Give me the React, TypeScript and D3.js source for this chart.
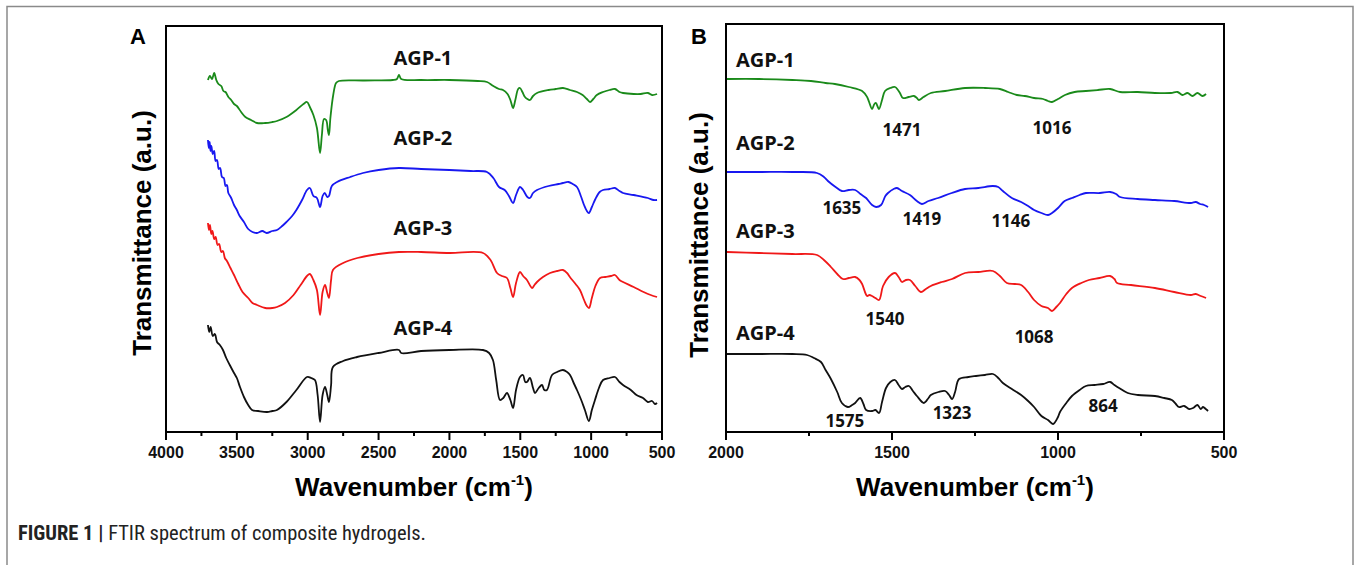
import React from "react";
import * as d3 from "d3";

// ---------- DATA ----------
// Panel A: full range spectra, [wavenumber (cm-1), transmittance (a.u.)]
const agp1A: [number, number][] = [
  [3704, 352], [3690, 356], [3675, 353], [3660, 359], [3645, 352], [3630, 348], [3610, 346], [3595, 341],
  [3580, 340], [3560, 335], [3540, 332], [3520, 328], [3500, 326], [3470, 320], [3440, 315], [3400, 312],
  [3358, 309], [3300, 309], [3250, 310], [3217, 311], [3150, 315], [3080, 322], [3030, 328], [3005, 330],
  [2985, 325], [2960, 317], [2935, 304], [2913, 279], [2900, 297], [2885, 313], [2870, 312], [2858, 302],
  [2850, 297], [2840, 314], [2820, 337], [2800, 349], [2780, 351], [2600, 351.5], [2400, 352], [2370, 353],
  [2356, 357], [2340, 353], [2200, 352], [2000, 352], [1800, 351], [1735, 350], [1690, 346], [1650, 343],
  [1622, 342], [1590, 338], [1570, 332], [1551, 324], [1535, 332], [1515, 343], [1502, 344], [1485, 340],
  [1467, 335], [1450, 333], [1432, 332], [1410, 336], [1382, 339], [1300, 342], [1250, 343], [1199, 344],
  [1150, 342], [1100, 340], [1060, 337], [1030, 333], [1008, 330], [985, 333], [960, 337], [916, 340],
  [870, 342], [832, 343], [800, 340], [775, 339], [700, 338], [650, 338], [600, 339], [570, 337], [535, 338],
];
const agp2A: [number, number][] = [
  [3704, 292], [3698, 284], [3692, 290], [3686, 281], [3680, 286], [3670, 278], [3660, 281], [3650, 271],
  [3640, 272], [3628, 263], [3618, 264], [3605, 255], [3592, 254], [3580, 246], [3570, 247], [3560, 239],
  [3540, 234], [3520, 227], [3500, 222], [3480, 216], [3450, 210], [3420, 203], [3390, 200], [3358, 199],
  [3320, 201], [3290, 199], [3250, 201], [3217, 202], [3180, 206], [3150, 210], [3110, 216], [3080, 222],
  [3040, 232], [3005, 242], [2985, 244], [2960, 236], [2935, 234], [2913, 225], [2895, 236], [2880, 239],
  [2862, 235], [2850, 236], [2830, 246], [2793, 250], [2700, 255], [2610, 259], [2500, 262], [2356, 264],
  [2200, 263], [2000, 262], [1850, 261], [1735, 260], [1690, 254], [1650, 245], [1610, 242], [1580, 236],
  [1551, 229], [1530, 237], [1502, 245], [1480, 242], [1450, 235], [1432, 234], [1410, 239], [1382, 242],
  [1300, 246], [1230, 248], [1199, 249], [1160, 250], [1130, 248], [1100, 245], [1070, 235], [1050, 227],
  [1030, 221], [1016, 219], [995, 225], [970, 233], [940, 240], [916, 242], [870, 243], [832, 244],
  [800, 241], [775, 239], [700, 237], [600, 234], [560, 232], [535, 232],
];
const agp3A: [number, number][] = [
  [3704, 209], [3697, 202], [3690, 207], [3680, 198], [3672, 201], [3660, 193], [3650, 195], [3636, 187],
  [3625, 188], [3610, 180], [3598, 181], [3585, 174], [3570, 171], [3545, 164], [3520, 157], [3490, 148],
  [3460, 140], [3420, 134], [3390, 129], [3358, 127], [3300, 124], [3250, 124], [3217, 125], [3160, 129],
  [3100, 137], [3050, 147], [3005, 156], [2985, 158], [2960, 152], [2935, 142], [2913, 117], [2895, 140],
  [2878, 147], [2862, 139], [2850, 134], [2835, 152], [2822, 162], [2750, 169], [2650, 174], [2500, 178],
  [2356, 180], [2200, 180], [2000, 179], [1763, 179], [1710, 172], [1664, 159], [1630, 156], [1594, 154],
  [1570, 144], [1551, 135], [1530, 149], [1502, 160], [1480, 156], [1453, 152], [1417, 144], [1400, 147],
  [1382, 150], [1340, 155], [1290, 159], [1240, 161], [1199, 162], [1170, 159], [1150, 155], [1110, 148],
  [1079, 142], [1050, 132], [1030, 126], [1015, 124], [995, 134], [970, 146], [937, 154], [900, 155],
  [860, 156], [832, 157], [800, 152], [775, 150], [700, 145], [630, 140], [580, 137], [535, 135],
];
const agp4A: [number, number][] = [
  [3704, 107], [3695, 100], [3685, 105], [3670, 96], [3655, 98], [3640, 90], [3620, 87], [3598, 82],
  [3575, 74], [3550, 67], [3520, 59], [3500, 54], [3478, 45], [3450, 35], [3420, 27], [3393, 22],
  [3350, 21], [3287, 20], [3250, 21], [3217, 22], [3150, 30], [3080, 42], [3005, 55], [2975, 54],
  [2949, 52], [2930, 37], [2913, 10], [2895, 37], [2878, 45], [2862, 37], [2850, 30], [2835, 47],
  [2822, 65], [2750, 71], [2652, 75], [2500, 79], [2356, 82], [2340, 79], [2200, 81], [2000, 82],
  [1763, 82], [1720, 79], [1693, 72], [1670, 52], [1643, 32], [1620, 34], [1594, 39], [1570, 32],
  [1551, 24], [1530, 42], [1502, 55], [1481, 57], [1465, 50], [1453, 50], [1432, 54], [1410, 44],
  [1396, 39], [1370, 44], [1347, 47], [1330, 42], [1312, 42], [1276, 57], [1240, 60], [1199, 62],
  [1170, 60], [1149, 57], [1120, 48], [1100, 42], [1070, 32], [1044, 22], [1016, 11], [995, 22],
  [973, 32], [945, 44], [916, 52], [870, 54], [832, 55], [800, 50], [775, 47], [720, 42], [680, 37],
  [634, 34], [600, 30], [570, 31], [550, 28], [535, 29],
];

// Panel B: fingerprint region
const agp1B: [number, number][] = [
  [1997, 353], [1900, 353], [1800, 352], [1744, 351], [1700, 349], [1672, 348], [1630, 345], [1590, 341],
  [1575, 335], [1569, 330], [1560, 323], [1553, 328], [1548, 329], [1544, 326], [1539, 323], [1530, 332],
  [1521, 341], [1505, 344], [1491, 345], [1482, 342], [1476, 339], [1467, 334], [1450, 335], [1434, 336],
  [1425, 334], [1419, 332], [1405, 335], [1383, 339], [1340, 341], [1280, 344], [1220, 344], [1175, 343],
  [1150, 340], [1124, 337], [1100, 336], [1072, 334], [1045, 333], [1030, 331], [1018, 330], [1000, 333],
  [979, 337], [950, 340], [916, 341], [880, 342], [843, 343], [813, 340], [760, 340], [708, 339],
  [660, 339], [640, 340], [625, 337], [610, 339], [595, 336], [580, 339], [565, 336], [554, 338],
];
const agp2B: [number, number][] = [
  [1997, 260], [1900, 260], [1800, 260], [1726, 259], [1705, 255], [1693, 251], [1670, 245], [1651, 241],
  [1630, 242], [1611, 242], [1595, 238], [1578, 234], [1560, 227], [1548, 225], [1533, 227], [1520, 236],
  [1512, 239], [1495, 243], [1485, 244], [1470, 241], [1446, 237], [1425, 231], [1410, 228], [1390, 231],
  [1361, 234], [1320, 239], [1280, 243], [1240, 244], [1196, 246], [1180, 245], [1166, 241], [1139, 234],
  [1111, 230], [1090, 226], [1072, 222], [1050, 219], [1030, 217], [1018, 219], [1000, 224], [980, 231],
  [958, 234], [935, 237], [916, 239], [874, 239], [843, 240], [825, 238], [813, 235], [760, 233],
  [708, 232], [650, 231], [600, 229], [585, 230], [572, 228], [560, 227], [548, 225],
];
const agp3B: [number, number][] = [
  [1997, 180], [1900, 179], [1800, 178], [1726, 177], [1705, 172], [1684, 165], [1665, 158], [1648, 153],
  [1630, 154], [1611, 155], [1598, 152], [1590, 148], [1575, 136], [1568, 137], [1560, 136], [1550, 134],
  [1539, 132], [1527, 146], [1510, 155], [1491, 159], [1480, 155], [1470, 150], [1458, 152], [1446, 152],
  [1430, 146], [1413, 140], [1398, 143], [1383, 146], [1350, 150], [1319, 153], [1280, 159], [1240, 160],
  [1196, 161], [1175, 156], [1154, 149], [1130, 148], [1111, 147], [1090, 140], [1072, 132], [1050, 126],
  [1030, 124], [1018, 121], [1005, 125], [994, 129], [975, 138], [958, 144], [930, 149], [907, 152],
  [875, 154], [843, 156], [830, 153], [822, 149], [780, 147], [708, 144], [650, 140], [600, 137],
  [585, 138], [570, 136], [554, 134],
];
const agp4B: [number, number][] = [
  [1997, 78], [1900, 78], [1800, 78], [1756, 77], [1735, 74], [1714, 70], [1700, 62], [1684, 53],
  [1665, 40], [1651, 29], [1633, 25], [1620, 27], [1611, 29], [1596, 34], [1586, 28], [1578, 22],
  [1560, 21], [1550, 22], [1539, 19], [1530, 30], [1518, 44], [1505, 50], [1491, 52], [1480, 47],
  [1470, 43], [1460, 45], [1449, 46], [1437, 41], [1425, 36], [1404, 29], [1390, 34], [1383, 37],
  [1360, 40], [1340, 41], [1328, 37], [1319, 33], [1310, 40], [1298, 53], [1270, 55], [1247, 56],
  [1220, 57], [1196, 58], [1180, 54], [1166, 49], [1139, 43], [1111, 37], [1090, 31], [1072, 25],
  [1050, 16], [1030, 12], [1015, 8], [1000, 15], [994, 20], [975, 29], [958, 36], [935, 42],
  [916, 46], [890, 47], [864, 48], [843, 50], [830, 47], [816, 44], [790, 39], [759, 37], [708, 36],
  [680, 34], [657, 32], [645, 28], [636, 25], [620, 26], [605, 23], [593, 24], [580, 27], [570, 23],
  [563, 25], [555, 23], [548, 21],
];

const seriesNames = ["AGP-1", "AGP-2", "AGP-3", "AGP-4"];
const seriesColors = ["#1a8a1a", "#1818f0", "#f01818", "#111111"];
const ticksA = [4000, 3500, 3000, 2500, 2000, 1500, 1000, 500];
const ticksB = [2000, 1500, 1000, 500];

// label anchors in data coordinates [wavenumber, transmittance]
const labelPosA: [number, number][] = [[2187, 374], [2187, 294], [2187, 204], [2187, 104]];
const labelPosB: [number, number][] = [[1970, 372], [1970, 289], [1970, 201], [1970, 99]];
const peakLabels = ["1471", "1016", "1635", "1419", "1146", "1540", "1068", "1575", "1323", "864"];
const peakPos: [number, number][] = [
  [1470, 302], [1018, 304], [1651, 224], [1410, 213], [1142, 211],
  [1521, 113], [1072, 95], [1642, 11], [1319, 19], [864, 26],
];

// ---------- LAYOUT ----------
const W = 1354;
const H = 565;
const boldSans = "'Liberation Sans', Arial, sans-serif";
const labelFont = "'Open Sans', 'Noto Sans', sans-serif";
const captionFont = "'Roboto Condensed', 'Liberation Sans Narrow', 'Liberation Sans', sans-serif";

type PanelProps = {
  x: d3.ScaleLinear<number, number>;
  y: d3.ScaleLinear<number, number>;
  data: [number, number][][];
  ticks: number[];
  minorStep: number;
  letter: string;
  letterX: number;
  titleX: number;
  titleDy: number;
  labelPos: [number, number][];
  labelAnchor: "middle" | "start";
};

function Panel(p: PanelProps) {
  const [x0, x1] = p.x.range();
  const [yb, yt] = p.y.range();
  const line = d3
    .line<[number, number]>()
    .x((d) => p.x(d[0]))
    .y((d) => p.y(d[1]))
    .curve(d3.curveCatmullRom.alpha(0.5));
  const dom = p.x.domain();
  const minor = d3.range(dom[0], dom[1] - 1, -p.minorStep).filter((v) => !p.ticks.includes(v));
  const cx = (x0 + x1) / 2;
  const cy = (yb + yt) / 2 + p.titleDy;
  return (
    <g>
      <text x={p.letterX} y={44} textAnchor="middle" fontFamily={boldSans} fontWeight="bold" fontSize={22} fill="#000">
        {p.letter}
      </text>
      {p.data.map((s, i) => (
        <path key={i} d={line(s) || ""} fill="none" stroke={seriesColors[i]} strokeWidth={1.8} strokeLinejoin="round" />
      ))}
      <rect x={x0} y={yt} width={x1 - x0} height={yb - yt} fill="none" stroke="#000" strokeWidth={2} />
      {p.ticks.map((t) => (
        <g key={"t" + t}>
          <line x1={p.x(t)} x2={p.x(t)} y1={yb} y2={yb + 8} stroke="#000" strokeWidth={2} />
          <text x={p.x(t)} y={yb + 26} textAnchor="middle" fontFamily={boldSans} fontWeight="bold" fontSize={16} fill="#111">
            {t}
          </text>
        </g>
      ))}
      {minor.map((t) => (
        <line key={"m" + t} x1={p.x(t)} x2={p.x(t)} y1={yb} y2={yb + 4} stroke="#000" strokeWidth={2} />
      ))}
      <text x={cx} y={yb + 64} textAnchor="middle" fontFamily={boldSans} fontWeight="bold" fontSize={26} fill="#000">
        Wavenumber (cm
        <tspan fontSize={15} dy={-11}>-1</tspan>
        <tspan dy={11}>)</tspan>
      </text>
      <text
        transform={`translate(${p.titleX},${cy}) rotate(-90)`}
        textAnchor="middle"
        fontFamily={boldSans}
        fontWeight="bold"
        fontSize={26}
        fill="#000"
      >
        Transmittance (a.u.)
      </text>
      {seriesNames.map((n, i) => (
        <text
          key={n}
          x={p.x(p.labelPos[i][0])}
          y={p.y(p.labelPos[i][1]) + 7}
          textAnchor={p.labelAnchor}
          fontFamily={labelFont}
          fontWeight="bold"
          fontSize={20}
          fill="#111"
        >
          {n}
        </text>
      ))}
    </g>
  );
}

export default function App() {
  const xA = d3.scaleLinear().domain([4000, 500]).range([166, 662]);
  const yA = d3.scaleLinear().domain([0, 406]).range([432, 26]);
  const xB = d3.scaleLinear().domain([2000, 500]).range([726, 1224]);
  const yB = d3.scaleLinear().domain([0, 408]).range([432, 24]);
  return (
    <svg width={W} height={H} style={{ position: "absolute", left: 0, top: 0, background: "#fff" }}>
      <rect x={0} y={0} width={W} height={H} fill="#fff" />
      <path d={`M7,${H + 5} V6.5 H1353 V${H + 5}`} fill="none" stroke="#8a8a8a" strokeWidth={1.5} />
      <Panel
        x={xA}
        y={yA}
        data={[agp1A, agp2A, agp3A, agp4A]}
        ticks={ticksA}
        minorStep={250}
        letter="A"
        letterX={138}
        titleX={151}
        titleDy={4}
        labelPos={labelPosA}
        labelAnchor="middle"
      />
      <Panel
        x={xB}
        y={yB}
        data={[agp1B, agp2B, agp3B, agp4B]}
        ticks={ticksB}
        minorStep={250}
        letter="B"
        letterX={699}
        titleX={708}
        titleDy={7}
        labelPos={labelPosB}
        labelAnchor="start"
      />
      {peakLabels.map((t, i) => (
        <text
          key={t}
          x={xB(peakPos[i][0])}
          y={yB(peakPos[i][1]) + 6}
          textAnchor="middle"
          fontFamily={labelFont}
          fontWeight="bold"
          fontSize={17}
          fill="#111"
        >
          {t}
        </text>
      ))}
      <text x={18} y={540} fontFamily={captionFont} fontSize={20.5} fill="#222">
        <tspan fontWeight="bold">FIGURE 1 | </tspan>
        <tspan>FTIR spectrum of composite hydrogels.</tspan>
      </text>
    </svg>
  );
}
